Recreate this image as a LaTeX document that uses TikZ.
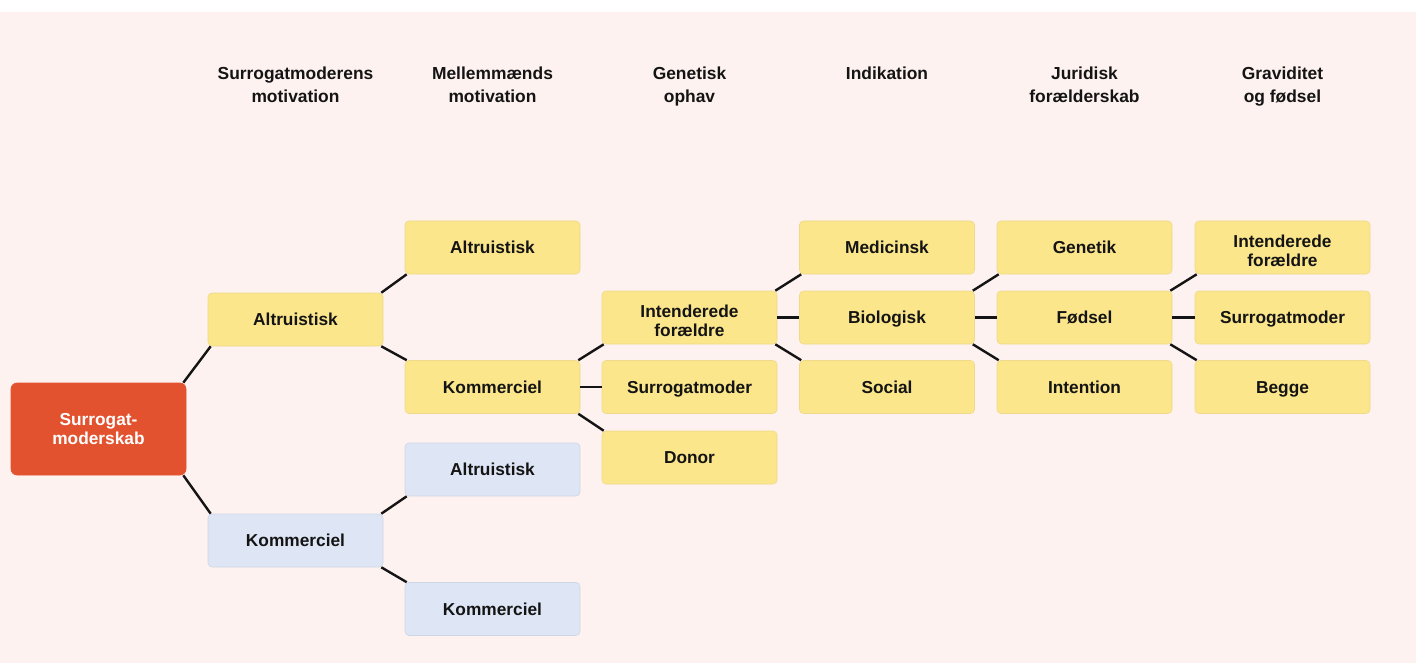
\documentclass[tikz,border=0pt]{standalone}
\usepackage{fontspec}
\setmainfont{Liberation Sans}
\definecolor{bgpink}{HTML}{FDF2F0}
\definecolor{boxyellow}{HTML}{FBE68C}
\definecolor{edgeyellow}{HTML}{EFD98A}
\definecolor{boxblue}{HTML}{DEE6F5}
\definecolor{edgeblue}{HTML}{CDD6E6}
\definecolor{rootorange}{HTML}{E3522E}
\definecolor{txt}{HTML}{141414}
\begin{document}
\begin{tikzpicture}[x=1pt,y=-1pt,
  box/.style={rectangle,rounded corners=4pt,minimum width=175pt,minimum height=53pt,
    inner sep=0pt,align=center,text=txt,font=\fontsize{17.3}{19}\selectfont\bfseries,line width=0.6pt,
    text height=12.5pt,text depth=0pt},
  two/.style={text height=37.5pt,text depth=0pt},
  ybox/.style={box,fill=boxyellow,draw=edgeyellow},
  bbox/.style={box,fill=boxblue,draw=edgeblue},
  rootbox/.style={box,fill=rootorange,draw=rootorange,text=white,minimum height=92pt,rounded corners=6pt,
    text height=33.5pt,text depth=2pt},
  head/.style={align=center,text=txt,font=\fontsize{17.4}{23}\selectfont\bfseries,inner sep=0pt,
    text height=35.5pt,text depth=0pt},
  head1/.style={head,text height=12.5pt},
  conn/.style={line width=2.4pt,draw=txt}]
\useasboundingbox (0,0) rectangle (1416,663);
\fill[white] (0,0) rectangle (1416,663);
\fill[bgpink] (0,12) rectangle (1416,663);

% headers
\node[head] (h1) at (295.5,84.5) {Surrogatmoderens\\motivation};
\node[head] (h2) at (492.5,84.5) {Mellemmænds\\motivation};
\node[head] (h3) at (689.5,84.5) {Genetisk\\ophav};
\node[head1] (h4) at (887,73) {Indikation};
\node[head] (h5) at (1084.5,84.5) {Juridisk\\forælderskab};
\node[head] (h6) at (1282.5,84.5) {Graviditet\\og fødsel};

% root
\node[rootbox] (root) at (98.5,429) {Surrogat-\\moderskab};

% column 1
\node[ybox] (c1a) at (295.5,319.5) {Altruistisk};
\node[bbox] (c1k) at (295.5,540.5) {Kommerciel};

% column 2
\node[ybox] (c2a) at (492.5,247.5) {Altruistisk};
\node[ybox] (c2k) at (492.5,387) {Kommerciel};
\node[bbox] (c2ba) at (492.5,469.5) {Altruistisk};
\node[bbox] (c2bk) at (492.5,609) {Kommerciel};

% column 3
\node[ybox,two] (c3i) at (689.5,317.5) {Intenderede\\forældre};
\node[ybox] (c3s) at (689.5,387) {Surrogatmoder};
\node[ybox] (c3d) at (689.5,457.5) {Donor};

% column 4
\node[ybox] (c4m) at (887,247.5) {Medicinsk};
\node[ybox] (c4b) at (887,317.5) {Biologisk};
\node[ybox] (c4s) at (887,387) {Social};

% column 5
\node[ybox] (c5g) at (1084.5,247.5) {Genetik};
\node[ybox] (c5f) at (1084.5,317.5) {Fødsel};
\node[ybox] (c5i) at (1084.5,387) {Intention};

% column 6
\node[ybox,two] (c6i) at (1282.5,247.5) {Intenderede\\forældre};
\node[ybox] (c6s) at (1282.5,317.5) {Surrogatmoder};
\node[ybox] (c6b) at (1282.5,387) {Begge};

% connectors
\draw[conn] ([xshift=-3pt]root.north east) -- ([xshift=3pt]c1a.south west);
\draw[conn] ([xshift=-3pt]root.south east) -- ([xshift=3pt]c1k.north west);
\draw[conn] ([xshift=-2pt]c1a.north east) -- ([xshift=2pt]c2a.south west);
\draw[conn] ([xshift=-2pt]c1a.south east) -- ([xshift=2pt]c2k.north west);
\draw[conn] ([xshift=-2pt]c1k.north east) -- ([xshift=2pt]c2ba.south west);
\draw[conn] ([xshift=-2pt]c1k.south east) -- ([xshift=2pt]c2bk.north west);
\draw[conn] ([xshift=-2pt]c2k.north east) -- ([xshift=2pt]c3i.south west);
\draw[conn] (c2k.east) -- (c3s.west);
\draw[conn] ([xshift=-2pt]c2k.south east) -- ([xshift=2pt]c3d.north west);
\draw[conn] ([xshift=-2pt]c3i.north east) -- ([xshift=2pt]c4m.south west);
\draw[conn] (c3i.east) -- (c4b.west);
\draw[conn] ([xshift=-2pt]c3i.south east) -- ([xshift=2pt]c4s.north west);
\draw[conn] ([xshift=-2pt]c4b.north east) -- ([xshift=2pt]c5g.south west);
\draw[conn] (c4b.east) -- (c5f.west);
\draw[conn] ([xshift=-2pt]c4b.south east) -- ([xshift=2pt]c5i.north west);
\draw[conn] ([xshift=-2pt]c5f.north east) -- ([xshift=2pt]c6i.south west);
\draw[conn] (c5f.east) -- (c6s.west);
\draw[conn] ([xshift=-2pt]c5f.south east) -- ([xshift=2pt]c6b.north west);
\end{tikzpicture}
\end{document}
